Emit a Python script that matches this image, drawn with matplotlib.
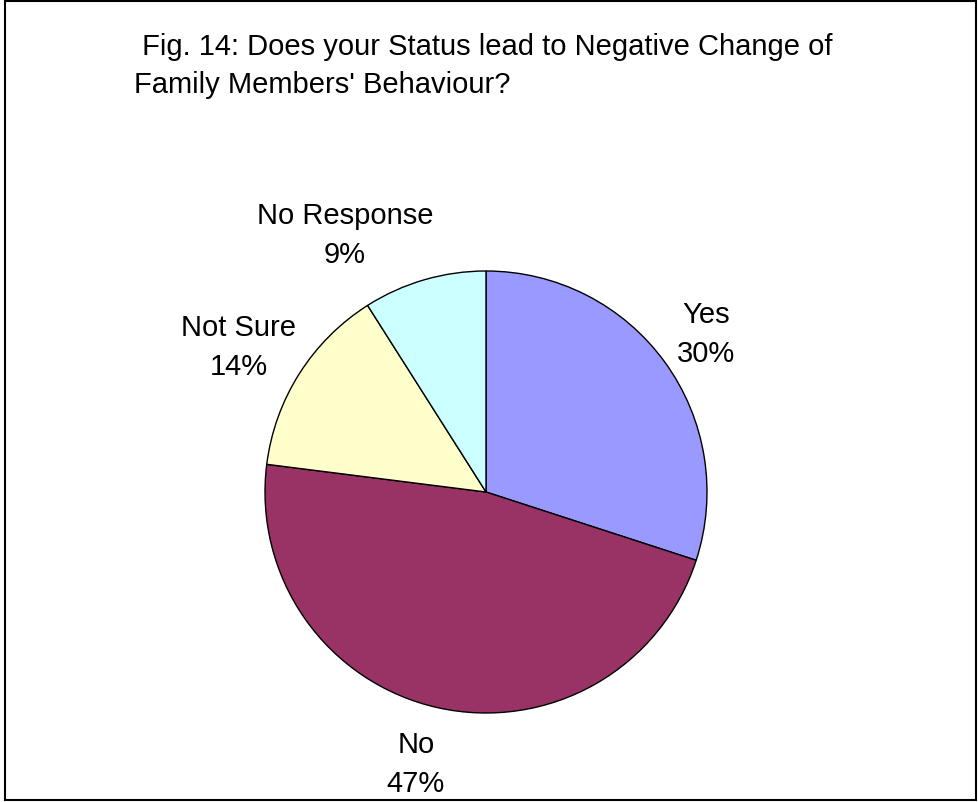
import matplotlib
matplotlib.use("Agg")
import matplotlib.pyplot as plt
import matplotlib.transforms as mtransforms
from matplotlib.patches import Rectangle

plt.rcParams["font.family"] = ["Liberation Sans", "DejaVu Sans"]

# Survey answers, clockwise from 12 o'clock
answers = ["Yes", "No", "Not Sure", "No Response"]
shares = [30, 47, 14, 9]
colors = ["#9999FF", "#993366", "#FFFFCC", "#CCFFFF"]

title_lines = [" Fig. 14: Does your Status lead to Negative Change of",
               "Family Members' Behaviour?"]

# label anchors in pie-radius units (centre of the two-line block)
label_xy = [(0.995, 0.679), (-0.317, -1.265), (-1.12, 0.62), (-0.638, 1.127)]

W, H = 979, 803
fs = 21

fig = plt.figure(figsize=(W / 100, H / 100), dpi=100)

# outer frame
fig.patches.append(Rectangle((5 / W, 2 / H), 971 / W, 799 / H,
                             transform=fig.transFigure, fill=False,
                             edgecolor="black", linewidth=1.5))

for i, line in enumerate(title_lines):
    fig.text(134 / W, 1 - (55 + 38 * i) / H, line, fontsize=fs,
             ha="left", va="baseline")

cx, cy, r = 486 / W, 1 - 493 / H, 221
ax = fig.add_axes([cx - r / W, cy - r / H, 2 * r / W, 2 * r / H])
ax.pie(shares, colors=colors, startangle=90, counterclock=False,
       wedgeprops=dict(edgecolor="black", linewidth=1.0))
ax.set_xlim(-1, 1)
ax.set_ylim(-1, 1)
ax.set_aspect("equal")
ax.axis("off")

up = mtransforms.offset_copy(ax.transData, fig=fig, x=0, y=19.5, units="dots")
down = mtransforms.offset_copy(ax.transData, fig=fig, x=0, y=-19.5, units="dots")
for name, val, (lx, ly) in zip(answers, shares, label_xy):
    ax.text(lx, ly, name, transform=up, ha="center", va="baseline",
            fontsize=fs, clip_on=False)
    ax.text(lx, ly, f"{val}%", transform=down, ha="center", va="baseline",
            fontsize=fs, clip_on=False)

fig.savefig("out.png", dpi=100)
